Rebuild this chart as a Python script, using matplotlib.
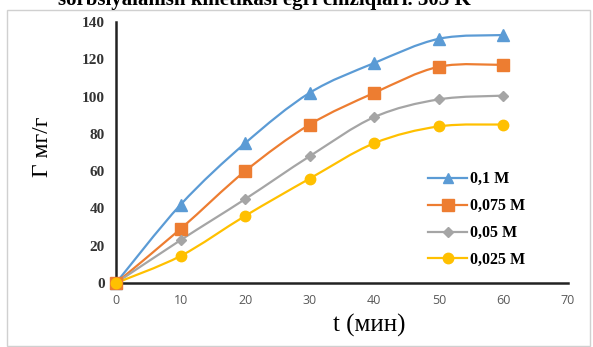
import matplotlib.pyplot as plt
from matplotlib.path import Path
from matplotlib.patches import PathPatch, Rectangle
from matplotlib.lines import Line2D

time_min = [0, 10, 20, 30, 40, 50, 60]
g_01 = [0, 42, 75, 102, 118, 131, 133]
g_0075 = [0, 29, 60, 85, 102, 116, 117]
g_005 = [0, 23, 45, 68, 89, 98.5, 100.5]
g_0025 = [0, 14.5, 36, 56, 75, 84, 85]
labels = ["0,1 M", "0,075 M", "0,05 M", "0,025 M"]
title = "sorbsiyalanish kinetikasi egri chiziqlari. 303 K"

colors = ["#5B9BD5", "#ED7D31", "#A5A5A5", "#FFC000"]
markers = ["^", "s", "D", "o"]
msizes = [8, 8, 5.5, 7.5]
leg_msizes = [6.5, 8, 5, 7.5]
serif = "Liberation Serif"


def smooth_path(x, y):
    # excel-like smoothed line: catmull-rom turned into cubic bezier segments
    pts = list(zip(x, y))
    verts = [pts[0]]
    codes = [Path.MOVETO]
    n = len(pts)
    for i in range(n - 1):
        p0 = pts[i - 1] if i > 0 else pts[i]
        p1 = pts[i]
        p2 = pts[i + 1]
        p3 = pts[i + 2] if i + 2 < n else pts[i + 1]
        c1 = (p1[0] + (p2[0] - p0[0]) / 6, p1[1] + (p2[1] - p0[1]) / 6)
        c2 = (p2[0] - (p3[0] - p1[0]) / 6, p2[1] - (p3[1] - p1[1]) / 6)
        verts += [c1, c2, p2]
        codes += [Path.CURVE4] * 3
    return Path(verts, codes)


fig = plt.figure(figsize=(5.93, 3.47), dpi=100)
ax = fig.add_axes([116 / 593, 1 - 283 / 347, (568 - 116) / 593, (283 - 22) / 347])

series = [g_01, g_0075, g_005, g_0025]
handles = []
for vals, c, m, ms, lms, lab in zip(series, colors, markers, msizes, leg_msizes, labels):
    ax.add_patch(PathPatch(smooth_path(time_min, vals), fill=False,
                           edgecolor=c, lw=1.6, zorder=2))
    ax.plot(time_min, vals, linestyle="none", marker=m, markersize=ms,
            color=c, zorder=3, clip_on=False)
    handles.append(Line2D([], [], color=c, lw=1.6, marker=m, markersize=lms,
                          label=lab))

ax.set_xlim(0, 70)
ax.set_ylim(0, 140)
ax.set_xticks(range(0, 71, 10))
ax.set_yticks(range(0, 141, 20))
for s in ["top", "right"]:
    ax.spines[s].set_visible(False)
for s in ["left", "bottom"]:
    ax.spines[s].set_linewidth(1.8)
    ax.spines[s].set_color("#222222")
ax.tick_params(length=0, pad=8)
for t in ax.get_xticklabels():
    t.set_fontfamily("Open Sans")
    t.set_fontsize(9)
    t.set_color("#595959")
for t in ax.get_yticklabels():
    t.set_fontfamily(serif)
    t.set_fontweight("bold")
    t.set_fontsize(11)
    t.set_color("#333333")

ax.set_ylabel("Г мг/г", fontfamily=serif, fontsize=17)
ax.yaxis.set_label_coords(-0.14, 0.52)
ax.set_xlabel("t (мин)", fontfamily=serif, fontsize=18)
ax.xaxis.set_label_coords(0.56, -0.12)

leg = ax.legend(handles=handles, loc="upper left",
                bbox_to_anchor=(414 / 593, 1 - 157 / 347),
                bbox_transform=fig.transFigure, frameon=False,
                handlelength=2.4, labelspacing=0.68, handletextpad=0.2,
                prop={"family": serif, "weight": "bold", "size": 11.5})

fig.text(264 / 593, 1 - 5 / 347, title, ha="center", va="baseline",
         fontfamily=serif, fontweight="bold", fontsize=15)
fig.patches.append(Rectangle((7 / 593, 1 / 347), 583 / 593, 336 / 347,
                             transform=fig.transFigure, fill=False,
                             edgecolor="#d0d0d0", lw=1))

fig.savefig("out.png", dpi=100)
